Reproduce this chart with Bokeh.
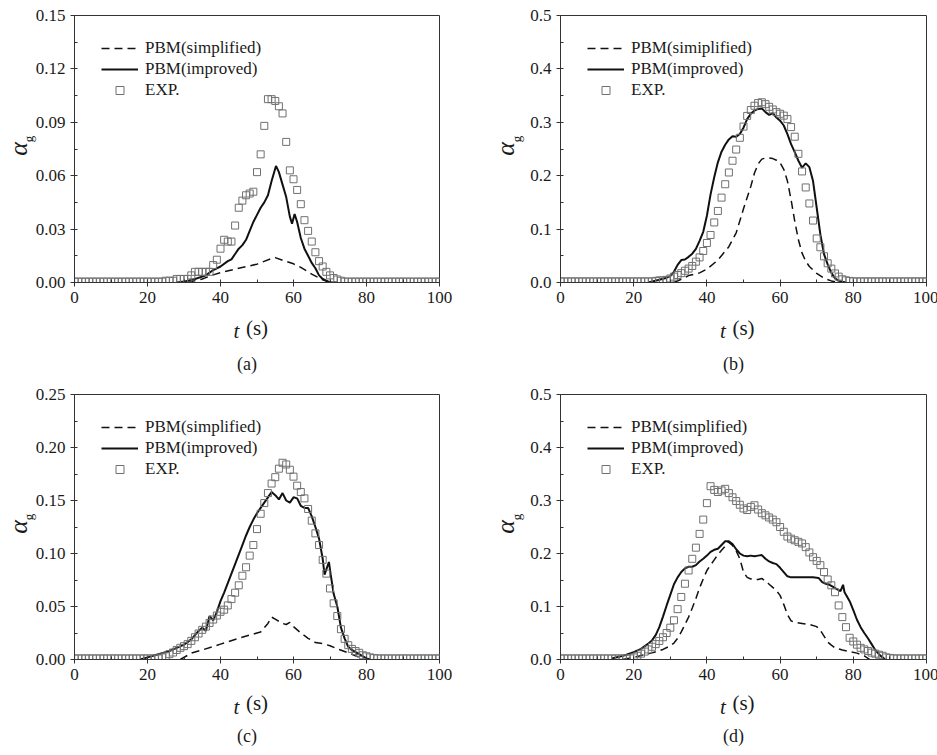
import math
from bokeh.plotting import figure
from bokeh.models import (Range1d, FixedTicker, NumeralTickFormatter, Label,
                          Legend, LegendItem)
from bokeh.layouts import column, row
from bokeh.embed import file_html
from bokeh.resources import INLINE

# ---------------- data ----------------
t_exp = list(range(0, 101))

x_ticks = [0, 20, 40, 60, 80, 100]
x_minor = [10, 30, 50, 70, 90]

# panel (a)
ya_ticks = [0, 0.03, 0.06, 0.09, 0.12, 0.15]
ya_minor = [0.015, 0.045, 0.075, 0.105, 0.135]
exp_a = [
    0.0005, 0.0005, 0.0005, 0.0005, 0.0005, 0.0005, 0.0005, 0.0005, 0.0005, 0.0005,
    0.0005, 0.0005, 0.0005, 0.0005, 0.0005, 0.0005, 0.0005, 0.0005, 0.0005, 0.0005,
    0.0005, 0.0005, 0.0005, 0.0005, 0.0005, 0.001, 0.001, 0.001, 0.002, 0.002,
    0.002, 0.002, 0.004, 0.006, 0.006, 0.006, 0.006, 0.006, 0.0098, 0.0128,
    0.019, 0.024, 0.023, 0.023, 0.032, 0.042, 0.046, 0.049, 0.050, 0.051,
    0.062, 0.072, 0.088, 0.103, 0.103, 0.102, 0.099, 0.095, 0.079, 0.063,
    0.058, 0.052, 0.044, 0.035, 0.029, 0.023, 0.017, 0.012, 0.009, 0.006,
    0.004, 0.0025, 0.0017, 0.001, 0.0005, 0.0005, 0.0005, 0.0005, 0.0005, 0.0005,
    0.0005, 0.0005, 0.0005, 0.0005, 0.0005, 0.0005, 0.0005, 0.0005, 0.0005, 0.0005,
    0.0005, 0.0005, 0.0005, 0.0005, 0.0005, 0.0005, 0.0005, 0.0005, 0.0005, 0.0005,
    0.0005]
imp_a_t = [28, 30, 33, 36, 38, 40, 42, 43, 44, 45, 46, 47, 48, 49, 50, 51, 52, 53, 54,
           55.2, 56, 57, 58, 59, 59.6, 60.3, 61, 62, 63, 64, 65, 66, 67, 68, 69, 70]
imp_a = [0, 0.0005, 0.002, 0.004, 0.007, 0.009, 0.012, 0.013, 0.016, 0.019, 0.021,
         0.024, 0.029, 0.034, 0.038, 0.042, 0.045, 0.049, 0.057, 0.0655, 0.062, 0.055,
         0.048, 0.037, 0.033, 0.0385, 0.034, 0.025, 0.019, 0.015, 0.011, 0.008, 0.004,
         0.002, 0.001, 0]
sim_a_t = [31, 35, 38, 40, 45, 50, 54, 55, 57, 60, 62, 65, 68, 70]
sim_a = [0, 0.002, 0.0043, 0.0055, 0.008, 0.0103, 0.0135, 0.014, 0.0125, 0.0105,
         0.0085, 0.0047, 0.0015, 0]

# panel (b)
yb_ticks = [0, 0.1, 0.2, 0.3, 0.4, 0.5]
yb_minor = [0.05, 0.15, 0.25, 0.35, 0.45]
exp_b = [
    0.002, 0.002, 0.002, 0.002, 0.002, 0.002, 0.002, 0.002, 0.002, 0.002,
    0.002, 0.002, 0.002, 0.002, 0.002, 0.002, 0.002, 0.002, 0.002, 0.002,
    0.002, 0.002, 0.002, 0.002, 0.002, 0.002, 0.003, 0.004, 0.004, 0.005,
    0.0075, 0.011, 0.014, 0.0175, 0.022, 0.026, 0.031, 0.039, 0.047, 0.059,
    0.074, 0.089, 0.1125, 0.134, 0.159, 0.184, 0.206, 0.228, 0.249, 0.271,
    0.292, 0.312, 0.323, 0.331, 0.336, 0.3375, 0.334, 0.329, 0.324, 0.319,
    0.316, 0.3125, 0.306, 0.291, 0.273, 0.241, 0.208, 0.178, 0.148, 0.116,
    0.0825, 0.066, 0.049, 0.036, 0.026, 0.017, 0.011, 0.006, 0.004, 0.003,
    0.002, 0.002, 0.002, 0.002, 0.002, 0.002, 0.002, 0.002, 0.002, 0.002,
    0.002, 0.002, 0.002, 0.002, 0.002, 0.002, 0.002, 0.002, 0.002, 0.002,
    0.002]
imp_b_t = [24, 27, 29, 30, 31, 32, 33, 34, 35, 36, 37, 38, 39, 40, 41, 42, 43, 44,
           45, 46, 47, 48, 49, 50, 51, 52, 53, 54, 55, 56, 57, 58, 59, 60, 61, 62,
           63, 64, 65, 66, 67, 68, 69, 70, 71, 72, 73, 74, 75, 76, 78]
imp_b = [0, 0.005, 0.009, 0.012, 0.02, 0.033, 0.042, 0.043, 0.048, 0.054, 0.063,
         0.078, 0.095, 0.125, 0.165, 0.197, 0.225, 0.245, 0.258, 0.268, 0.274, 0.273,
         0.278, 0.29, 0.306, 0.316, 0.322, 0.325, 0.326, 0.319, 0.314, 0.317, 0.309,
         0.303, 0.294, 0.278, 0.259, 0.244, 0.228, 0.215, 0.223, 0.216, 0.19, 0.14,
         0.09, 0.053, 0.034, 0.018, 0.008, 0.003, 0]
sim_b_t = [31, 33, 35, 38, 40, 43, 46, 48, 50, 52, 53, 54, 55, 56, 57, 58, 59, 60,
           61, 62, 63, 64, 65, 66, 67, 68, 70, 72, 74, 76]
sim_b = [0, 0.006, 0.013, 0.018, 0.025, 0.042, 0.067, 0.093, 0.138, 0.18, 0.205,
         0.222, 0.231, 0.233, 0.233, 0.232, 0.229, 0.224, 0.212, 0.19, 0.155, 0.115,
         0.08, 0.055, 0.04, 0.03, 0.017, 0.008, 0.003, 0]

# panel (c)
yc_ticks = [0, 0.05, 0.10, 0.15, 0.20, 0.25]
yc_minor = [0.025, 0.075, 0.125, 0.175, 0.225]
exp_c = [
    0.001, 0.001, 0.001, 0.001, 0.001, 0.001, 0.001, 0.001, 0.001, 0.001,
    0.001, 0.001, 0.001, 0.001, 0.001, 0.001, 0.001, 0.001, 0.001, 0.001,
    0.001, 0.001, 0.001, 0.001, 0.002, 0.003, 0.005, 0.0066, 0.009, 0.011,
    0.0126, 0.0145, 0.0176, 0.021, 0.0245, 0.028, 0.031, 0.0345, 0.0377, 0.0415,
    0.045, 0.047, 0.051, 0.057, 0.063, 0.070, 0.079, 0.087, 0.098, 0.108,
    0.123, 0.1375, 0.1476, 0.157, 0.166, 0.172, 0.180, 0.1856, 0.184, 0.179,
    0.1725, 0.164, 0.158, 0.152, 0.142, 0.131, 0.119, 0.108, 0.094, 0.081,
    0.067, 0.053, 0.041, 0.0286, 0.0195, 0.0135, 0.010, 0.008, 0.0063, 0.004,
    0.003, 0.002, 0.0013, 0.001, 0.001, 0.001, 0.001, 0.001, 0.001, 0.001,
    0.001, 0.001, 0.001, 0.001, 0.001, 0.001, 0.001, 0.001, 0.001, 0.001,
    0.001]
imp_c_t = [18, 20, 22, 24, 26, 28, 30, 32, 34, 35, 36, 37, 38, 39, 40, 41, 42, 43,
           44, 45, 46, 47, 48, 49, 50, 51, 52, 53, 54, 55, 56, 57, 58, 59, 60, 61,
           62, 63, 64, 65, 66, 67, 68, 68.5, 69, 69.7, 70.2, 71, 72, 73, 74, 75, 76,
           77, 78, 79, 80, 81]
imp_c = [0, 0.002, 0.004, 0.006, 0.008, 0.011, 0.014, 0.019, 0.027, 0.030, 0.027,
         0.041, 0.037, 0.045, 0.055, 0.063, 0.072, 0.081, 0.09, 0.099, 0.108, 0.117,
         0.125, 0.132, 0.138, 0.143, 0.148, 0.153, 0.158, 0.155, 0.151, 0.157, 0.150,
         0.148, 0.153, 0.152, 0.145, 0.143, 0.143, 0.135, 0.125, 0.114, 0.095, 0.080,
         0.085, 0.092, 0.080, 0.062, 0.05, 0.03, 0.02, 0.012, 0.009, 0.007, 0.005,
         0.003, 0.001, 0]
sim_c_t = [29, 32, 35, 40, 45, 48, 50, 51, 52, 53, 54, 55, 56, 57, 58, 59, 60, 62,
           64, 66, 68, 70, 72, 74, 76, 78, 79]
sim_c = [0, 0.006, 0.009, 0.0145, 0.02, 0.023, 0.025, 0.026, 0.030, 0.034, 0.040,
         0.038, 0.036, 0.034, 0.033, 0.035, 0.031, 0.025, 0.02, 0.016, 0.015, 0.013,
         0.010, 0.0075, 0.005, 0.002, 0]

# panel (d)
yd_ticks = [0, 0.1, 0.2, 0.3, 0.4, 0.5]
yd_minor = [0.05, 0.15, 0.25, 0.35, 0.45]
exp_d = [
    0.002, 0.002, 0.002, 0.002, 0.002, 0.002, 0.002, 0.002, 0.002, 0.002,
    0.002, 0.002, 0.002, 0.002, 0.002, 0.002, 0.002, 0.002, 0.002, 0.002,
    0.004, 0.007, 0.011, 0.015, 0.019, 0.024, 0.029, 0.035, 0.042, 0.05,
    0.06, 0.074, 0.095, 0.118, 0.143, 0.168, 0.19, 0.211, 0.237, 0.264,
    0.295, 0.327, 0.32, 0.316, 0.319, 0.322, 0.314, 0.306, 0.299, 0.292,
    0.285, 0.282, 0.288, 0.291, 0.283, 0.276, 0.272, 0.268, 0.264, 0.259,
    0.25, 0.241, 0.232, 0.228, 0.225, 0.222, 0.219, 0.212, 0.202, 0.193,
    0.186, 0.178, 0.165, 0.151, 0.14, 0.127, 0.102, 0.08, 0.061, 0.041,
    0.034, 0.028, 0.022, 0.019, 0.016, 0.013, 0.011, 0.009, 0.007, 0.004,
    0.003, 0.002, 0.002, 0.002, 0.002, 0.002, 0.002, 0.002, 0.002, 0.002,
    0.002]
imp_d_t = [14, 16, 18, 20, 22, 24, 25, 26, 27, 28, 29, 30, 31, 32, 33, 34, 35, 36,
           37, 38, 39, 40, 41, 42, 43, 44, 45, 46, 47, 48, 49, 50, 51, 52, 53, 54,
           55, 56, 57, 58, 59, 60, 61, 62, 63, 65, 67, 69, 70.5, 71.5, 72.5, 73.5,
           74.5, 75.5, 76.5, 77.2, 77.6, 78.2, 79, 80, 81, 82, 83, 84, 85, 86, 87,
           88, 88.7]
imp_d = [0.002, 0.005, 0.009, 0.014, 0.02, 0.03, 0.036, 0.046, 0.061, 0.081, 0.102,
         0.122, 0.142, 0.155, 0.165, 0.172, 0.175, 0.175, 0.178, 0.185, 0.19, 0.196,
         0.203, 0.207, 0.209, 0.216, 0.223, 0.223, 0.218, 0.208, 0.2, 0.196, 0.195,
         0.196, 0.195, 0.196, 0.197, 0.19, 0.185, 0.182, 0.18, 0.173, 0.165, 0.157,
         0.155, 0.155, 0.155, 0.155, 0.154, 0.146, 0.143, 0.141, 0.137, 0.133, 0.129,
         0.141, 0.127, 0.12, 0.11, 0.093, 0.075, 0.061, 0.05, 0.04, 0.029, 0.018,
         0.01, 0.004, 0]
sim_d_t = [17, 20, 23, 25, 28, 30, 31, 32, 33, 34, 35, 36, 37, 38, 39, 40, 41, 42,
           43, 44, 45, 45.8, 47, 48, 49, 50, 51, 52, 53, 54, 55, 56, 57, 58, 59, 60,
           61, 62, 63, 64, 66, 68, 70, 71, 72, 73, 74, 75, 77, 79, 81, 83, 84.5]
sim_d = [0, 0.004, 0.009, 0.0125, 0.019, 0.026, 0.031, 0.04, 0.052, 0.066, 0.08,
         0.097, 0.115, 0.135, 0.152, 0.168, 0.178, 0.188, 0.198, 0.206, 0.214, 0.222,
         0.215, 0.205, 0.19, 0.165, 0.155, 0.152, 0.151, 0.151, 0.153, 0.148, 0.142,
         0.136, 0.13, 0.121, 0.104, 0.085, 0.073, 0.07, 0.068, 0.066, 0.062, 0.055,
         0.044, 0.033, 0.027, 0.022, 0.018, 0.015, 0.012, 0.007, 0]

FONT = "Liberation Serif"
TXT = "#1a1a1a"


def side_label(p, place, x, y, text, size, style="normal", angle=0.0):
    p.add_layout(Label(x=x, y=y, x_units="screen", y_units="screen", text=text,
                       text_font=FONT, text_font_size=size, text_font_style=style,
                       text_color=TXT, angle=angle, text_align="center",
                       text_baseline="middle"), place)


def make_panel(letter, exp, imp_t, imp, sim_t, sim, ymax, yticks, yminor, yfmt,
               sim_label, fw, fh, bl, br, bt, bb, ystand, alpha_off, xstand,
               tlab_y, letter_y):
    p = figure(frame_width=fw, frame_height=fh, output_backend="svg",
               toolbar_location=None, x_range=Range1d(0, 100),
               y_range=Range1d(0, ymax), min_border_left=bl, min_border_right=br,
               min_border_top=bt, min_border_bottom=bb, background_fill_color="white",
               border_fill_color="white")
    p.xgrid.visible = False
    p.ygrid.visible = False
    p.outline_line_color = "#333333"
    p.outline_line_width = 1

    p.xaxis.ticker = FixedTicker(ticks=x_ticks, minor_ticks=x_minor)
    p.yaxis.ticker = FixedTicker(ticks=yticks, minor_ticks=yminor)
    p.xaxis.formatter = NumeralTickFormatter(format="0")
    p.yaxis.formatter = NumeralTickFormatter(format=yfmt)
    for ax in (p.xaxis, p.yaxis):
        ax.axis_line_color = "#333333"
        ax.major_tick_line_color = "#333333"
        ax.minor_tick_line_color = "#333333"
        ax.major_tick_in = 3
        ax.major_tick_out = 4
        ax.minor_tick_in = 3
        ax.minor_tick_out = 0
        ax.major_label_text_font = FONT
        ax.major_label_text_font_size = "17px"
        ax.major_label_text_color = TXT
        ax.major_label_standoff = 5
        ax.axis_label_text_font = FONT
        ax.axis_label_text_color = TXT

    # axis titles: "(s)" on x axis, italic alpha on y axis
    p.xaxis.axis_label = "(s)"
    p.xaxis.axis_label_text_font_size = "21px"
    p.xaxis.axis_label_text_font_style = "normal"
    p.xaxis.axis_label_standoff = xstand
    p.yaxis.axis_label = "α"
    p.yaxis.axis_label_text_font_size = "26px"
    p.yaxis.axis_label_text_font_style = "italic"
    p.yaxis.axis_label_standoff = ystand

    r_sim = p.line(sim_t, sim, line_color="#111111", line_width=1.5, line_dash="8 5")
    r_imp = p.line(imp_t, imp, line_color="#111111", line_width=2)
    r_exp = p.scatter(t_exp, exp, marker="square", size=7, line_color="#707070",
                      line_width=1, fill_color=None)

    legend = Legend(items=[LegendItem(label=sim_label, renderers=[r_sim]),
                           LegendItem(label="PBM(improved)", renderers=[r_imp]),
                           LegendItem(label="EXP.", renderers=[r_exp])],
                    location=(27, fh - 23 - 62), orientation="vertical",
                    background_fill_alpha=0, border_line_alpha=0, padding=0,
                    margin=0, spacing=1, glyph_width=37, glyph_height=20,
                    label_height=20, label_standoff=7, label_text_font=FONT,
                    label_text_font_size="17px", label_text_color=TXT)
    p.add_layout(legend)

    # italic "t" (right side panel, coordinates from frame right / frame bottom)
    side_label(p, "right", -(fw / 2.0 + 20.5), tlab_y, "t", "21px", style="italic")
    # subscript "g" (above side panel, coordinates from frame left / frame top)
    side_label(p, "above", alpha_off + 5, -(fh / 2.0 - 10), "g", "13px",
               angle=math.pi / 2)
    # panel letter (below, after x axis)
    side_label(p, "below", fw / 2.0 - 10, letter_y, "(" + letter + ")", "18px")
    return p


pa = make_panel("a", exp_a, imp_a_t, imp_a, sim_a_t, sim_a, 0.15, ya_ticks, ya_minor,
                "0.00", "PBM(simplified)", 365, 267, 73, 30, 15, 95, 0, -51, 10,
                -48, -1)
pb = make_panel("b", exp_b, imp_b_t, imp_b, sim_b_t, sim_b, 0.5, yb_ticks, yb_minor,
                "0.0", "PBM(simiplified)", 366, 267, 91, 12, 15, 95, 7, -49, 10,
                -48, -1)
pc = make_panel("c", exp_c, imp_c_t, imp_c, sim_c_t, sim_c, 0.25, yc_ticks, yc_minor,
                "0.00", "PBM(simplified)", 365, 265, 73, 30, 17, 96, 0, -51, 8,
                -47, 2)
pd = make_panel("d", exp_d, imp_d_t, imp_d, sim_d_t, sim_d, 0.5, yd_ticks, yd_minor,
                "0.0", "PBM(simplified)", 366, 265, 91, 12, 17, 96, 7, -49, 8,
                -47, 2)

layout = column(row(pa, pb), row(pc, pd))
open("out.html", "w").write(file_html(layout, INLINE))
